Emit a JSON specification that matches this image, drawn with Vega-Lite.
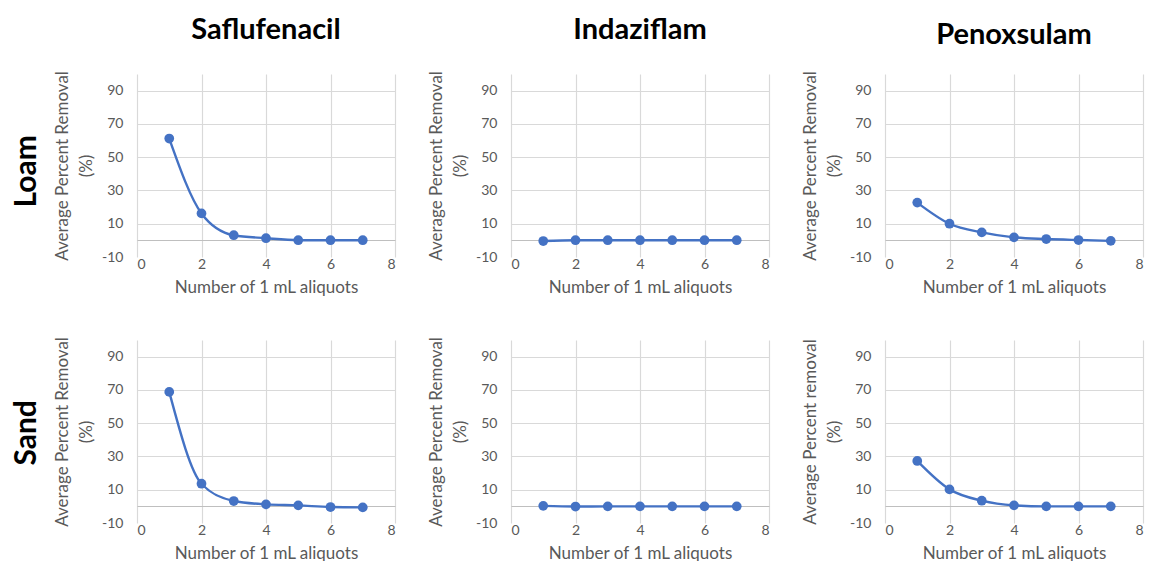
{
  "$schema": "https://vega.github.io/schema/vega-lite/v6.json",
  "padding": {"left": 11, "top": 15, "right": 4, "bottom": 0},
  "background": "white",
  "data": {"values": [
    {"soil": "Loam", "herbicide": "Saflufenacil", "aliquot": 1, "removal": 61.2},
    {"soil": "Loam", "herbicide": "Saflufenacil", "aliquot": 2, "removal": 16.2},
    {"soil": "Loam", "herbicide": "Saflufenacil", "aliquot": 3, "removal": 3.1},
    {"soil": "Loam", "herbicide": "Saflufenacil", "aliquot": 4, "removal": 1.3},
    {"soil": "Loam", "herbicide": "Saflufenacil", "aliquot": 5, "removal": 0.1},
    {"soil": "Loam", "herbicide": "Saflufenacil", "aliquot": 6, "removal": 0.1},
    {"soil": "Loam", "herbicide": "Saflufenacil", "aliquot": 7, "removal": 0.1},
    {"soil": "Loam", "herbicide": "Indaziflam", "aliquot": 1, "removal": -0.4},
    {"soil": "Loam", "herbicide": "Indaziflam", "aliquot": 2, "removal": 0.1},
    {"soil": "Loam", "herbicide": "Indaziflam", "aliquot": 3, "removal": 0.1},
    {"soil": "Loam", "herbicide": "Indaziflam", "aliquot": 4, "removal": 0.1},
    {"soil": "Loam", "herbicide": "Indaziflam", "aliquot": 5, "removal": 0.1},
    {"soil": "Loam", "herbicide": "Indaziflam", "aliquot": 6, "removal": 0.1},
    {"soil": "Loam", "herbicide": "Indaziflam", "aliquot": 7, "removal": 0.1},
    {"soil": "Loam", "herbicide": "Penoxsulam", "aliquot": 1, "removal": 22.7},
    {"soil": "Loam", "herbicide": "Penoxsulam", "aliquot": 2, "removal": 10.0},
    {"soil": "Loam", "herbicide": "Penoxsulam", "aliquot": 3, "removal": 4.8},
    {"soil": "Loam", "herbicide": "Penoxsulam", "aliquot": 4, "removal": 1.8},
    {"soil": "Loam", "herbicide": "Penoxsulam", "aliquot": 5, "removal": 0.8},
    {"soil": "Loam", "herbicide": "Penoxsulam", "aliquot": 6, "removal": 0.2},
    {"soil": "Loam", "herbicide": "Penoxsulam", "aliquot": 7, "removal": -0.3},
    {"soil": "Sand", "herbicide": "Saflufenacil", "aliquot": 1, "removal": 68.8},
    {"soil": "Sand", "herbicide": "Saflufenacil", "aliquot": 2, "removal": 13.6},
    {"soil": "Sand", "herbicide": "Saflufenacil", "aliquot": 3, "removal": 3.2},
    {"soil": "Sand", "herbicide": "Saflufenacil", "aliquot": 4, "removal": 1.2},
    {"soil": "Sand", "herbicide": "Saflufenacil", "aliquot": 5, "removal": 0.6},
    {"soil": "Sand", "herbicide": "Saflufenacil", "aliquot": 6, "removal": -0.4},
    {"soil": "Sand", "herbicide": "Saflufenacil", "aliquot": 7, "removal": -0.6},
    {"soil": "Sand", "herbicide": "Indaziflam", "aliquot": 1, "removal": 0.3},
    {"soil": "Sand", "herbicide": "Indaziflam", "aliquot": 2, "removal": -0.1},
    {"soil": "Sand", "herbicide": "Indaziflam", "aliquot": 3, "removal": 0.0},
    {"soil": "Sand", "herbicide": "Indaziflam", "aliquot": 4, "removal": 0.0},
    {"soil": "Sand", "herbicide": "Indaziflam", "aliquot": 5, "removal": 0.0},
    {"soil": "Sand", "herbicide": "Indaziflam", "aliquot": 6, "removal": 0.0},
    {"soil": "Sand", "herbicide": "Indaziflam", "aliquot": 7, "removal": 0.0},
    {"soil": "Sand", "herbicide": "Penoxsulam", "aliquot": 1, "removal": 27.3},
    {"soil": "Sand", "herbicide": "Penoxsulam", "aliquot": 2, "removal": 10.2},
    {"soil": "Sand", "herbicide": "Penoxsulam", "aliquot": 3, "removal": 3.4},
    {"soil": "Sand", "herbicide": "Penoxsulam", "aliquot": 4, "removal": 0.6},
    {"soil": "Sand", "herbicide": "Penoxsulam", "aliquot": 5, "removal": 0.0},
    {"soil": "Sand", "herbicide": "Penoxsulam", "aliquot": 6, "removal": 0.0},
    {"soil": "Sand", "herbicide": "Penoxsulam", "aliquot": 7, "removal": 0.0}
  ]},
  "spacing": 41,
  "vconcat": [
    {
      "title": {"text": "Loam", "orient": "left", "anchor": "middle", "fontSize": 30, "font": "Lato", "fontWeight": "bold", "color": "black", "offset": 12, "dx": -16},
      "spacing": 32,
      "hconcat": [
        {
          "title": {"text": "Saflufenacil", "fontSize": 29, "font": "Lato", "fontWeight": "bold", "color": "black", "offset": 26},
          "width": 258, "height": 183,
          "transform": [{"filter": "datum.soil === 'Loam' && datum.herbicide === 'Saflufenacil'"}],
          "encoding": {
            "x": {"field": "aliquot", "type": "quantitative", "scale": {"domain": [0, 8], "nice": false}, "axis": {"title": "Number of 1 mL aliquots", "values": [0, 2, 4, 6, 8]}},
            "y": {"field": "removal", "type": "quantitative", "scale": {"domain": [-10, 100], "nice": false, "zero": false},
                  "axis": {"title": ["Average Percent Removal", "(%)"], "values": [-10, 0, 10, 30, 50, 70, 90], "labelExpr": "datum.value === 0 ? '' : '' + datum.value",
                           "gridColor": {"condition": {"test": "datum.value === 0", "value": "#bfbfbf"}, "value": "#d9d9d9"},
                           "gridOpacity": {"condition": {"test": "datum.value === -10", "value": 0}, "value": 1}}}
          },
          "layer": [
            {"mark": {"type": "line", "interpolate": "monotone", "color": "#4472c4", "strokeWidth": 2.4}},
            {"mark": {"type": "point", "filled": true, "opacity": 1, "size": 95, "color": "#4472c4"}}
          ]
        },
        {
          "title": {"text": "Indaziflam", "fontSize": 29, "font": "Lato", "fontWeight": "bold", "color": "black", "offset": 26},
          "width": 258, "height": 183,
          "transform": [{"filter": "datum.soil === 'Loam' && datum.herbicide === 'Indaziflam'"}],
          "encoding": {
            "x": {"field": "aliquot", "type": "quantitative", "scale": {"domain": [0, 8], "nice": false}, "axis": {"title": "Number of 1 mL aliquots", "values": [0, 2, 4, 6, 8]}},
            "y": {"field": "removal", "type": "quantitative", "scale": {"domain": [-10, 100], "nice": false, "zero": false},
                  "axis": {"title": ["Average Percent Removal", "(%)"], "values": [-10, 0, 10, 30, 50, 70, 90], "labelExpr": "datum.value === 0 ? '' : '' + datum.value",
                           "gridColor": {"condition": {"test": "datum.value === 0", "value": "#bfbfbf"}, "value": "#d9d9d9"},
                           "gridOpacity": {"condition": {"test": "datum.value === -10", "value": 0}, "value": 1}}}
          },
          "layer": [
            {"mark": {"type": "line", "interpolate": "monotone", "color": "#4472c4", "strokeWidth": 2.4}},
            {"mark": {"type": "point", "filled": true, "opacity": 1, "size": 95, "color": "#4472c4"}}
          ]
        },
        {
          "title": {"text": "Penoxsulam", "fontSize": 29, "font": "Lato", "fontWeight": "bold", "color": "black", "offset": 21},
          "width": 258, "height": 183,
          "transform": [{"filter": "datum.soil === 'Loam' && datum.herbicide === 'Penoxsulam'"}],
          "encoding": {
            "x": {"field": "aliquot", "type": "quantitative", "scale": {"domain": [0, 8], "nice": false}, "axis": {"title": "Number of 1 mL aliquots", "values": [0, 2, 4, 6, 8]}},
            "y": {"field": "removal", "type": "quantitative", "scale": {"domain": [-10, 100], "nice": false, "zero": false},
                  "axis": {"title": ["Average Percent Removal", "(%)"], "values": [-10, 0, 10, 30, 50, 70, 90], "labelExpr": "datum.value === 0 ? '' : '' + datum.value",
                           "gridColor": {"condition": {"test": "datum.value === 0", "value": "#bfbfbf"}, "value": "#d9d9d9"},
                           "gridOpacity": {"condition": {"test": "datum.value === -10", "value": 0}, "value": 1}}}
          },
          "layer": [
            {"mark": {"type": "line", "interpolate": "monotone", "color": "#4472c4", "strokeWidth": 2.4}},
            {"mark": {"type": "point", "filled": true, "opacity": 1, "size": 95, "color": "#4472c4"}}
          ]
        }
      ]
    },
    {
      "title": {"text": "Sand", "orient": "left", "anchor": "middle", "fontSize": 30, "font": "Lato", "fontWeight": "bold", "color": "black", "offset": 12, "dx": 16},
      "spacing": 32,
      "hconcat": [
        {
          "width": 258, "height": 183,
          "transform": [{"filter": "datum.soil === 'Sand' && datum.herbicide === 'Saflufenacil'"}],
          "encoding": {
            "x": {"field": "aliquot", "type": "quantitative", "scale": {"domain": [0, 8], "nice": false}, "axis": {"title": "Number of 1 mL aliquots", "values": [0, 2, 4, 6, 8]}},
            "y": {"field": "removal", "type": "quantitative", "scale": {"domain": [-10, 100], "nice": false, "zero": false},
                  "axis": {"title": ["Average Percent Removal", "(%)"], "values": [-10, 0, 10, 30, 50, 70, 90], "labelExpr": "datum.value === 0 ? '' : '' + datum.value",
                           "gridColor": {"condition": {"test": "datum.value === 0", "value": "#bfbfbf"}, "value": "#d9d9d9"},
                           "gridOpacity": {"condition": {"test": "datum.value === -10", "value": 0}, "value": 1}}}
          },
          "layer": [
            {"mark": {"type": "line", "interpolate": "monotone", "color": "#4472c4", "strokeWidth": 2.4}},
            {"mark": {"type": "point", "filled": true, "opacity": 1, "size": 95, "color": "#4472c4"}}
          ]
        },
        {
          "width": 258, "height": 183,
          "transform": [{"filter": "datum.soil === 'Sand' && datum.herbicide === 'Indaziflam'"}],
          "encoding": {
            "x": {"field": "aliquot", "type": "quantitative", "scale": {"domain": [0, 8], "nice": false}, "axis": {"title": "Number of 1 mL aliquots", "values": [0, 2, 4, 6, 8]}},
            "y": {"field": "removal", "type": "quantitative", "scale": {"domain": [-10, 100], "nice": false, "zero": false},
                  "axis": {"title": ["Average Percent Removal", "(%)"], "values": [-10, 0, 10, 30, 50, 70, 90], "labelExpr": "datum.value === 0 ? '' : '' + datum.value",
                           "gridColor": {"condition": {"test": "datum.value === 0", "value": "#bfbfbf"}, "value": "#d9d9d9"},
                           "gridOpacity": {"condition": {"test": "datum.value === -10", "value": 0}, "value": 1}}}
          },
          "layer": [
            {"mark": {"type": "line", "interpolate": "monotone", "color": "#4472c4", "strokeWidth": 2.4}},
            {"mark": {"type": "point", "filled": true, "opacity": 1, "size": 95, "color": "#4472c4"}}
          ]
        },
        {
          "width": 258, "height": 183,
          "transform": [{"filter": "datum.soil === 'Sand' && datum.herbicide === 'Penoxsulam'"}],
          "encoding": {
            "x": {"field": "aliquot", "type": "quantitative", "scale": {"domain": [0, 8], "nice": false}, "axis": {"title": "Number of 1 mL aliquots", "values": [0, 2, 4, 6, 8]}},
            "y": {"field": "removal", "type": "quantitative", "scale": {"domain": [-10, 100], "nice": false, "zero": false},
                  "axis": {"title": ["Average Percent removal", "(%)"], "values": [-10, 0, 10, 30, 50, 70, 90], "labelExpr": "datum.value === 0 ? '' : '' + datum.value",
                           "gridColor": {"condition": {"test": "datum.value === 0", "value": "#bfbfbf"}, "value": "#d9d9d9"},
                           "gridOpacity": {"condition": {"test": "datum.value === -10", "value": 0}, "value": 1}}}
          },
          "layer": [
            {"mark": {"type": "line", "interpolate": "monotone", "color": "#4472c4", "strokeWidth": 2.4}},
            {"mark": {"type": "point", "filled": true, "opacity": 1, "size": 95, "color": "#4472c4"}}
          ]
        }
      ]
    }
  ],
  "config": {
    "view": {"stroke": null},
    "axis": {
      "domain": false,
      "ticks": false,
      "grid": true,
      "gridColor": "#d9d9d9",
      "gridWidth": 1.2,
      "labelColor": "#595959",
      "titleColor": "#595959",
      "labelFont": "Lato",
      "titleFont": "Lato",
      "labelFontSize": 14,
      "titleFontSize": 17,
      "titleFontWeight": "normal"
    },
    "axisX": {"labelPadding": 0, "titlePadding": 8},
    "axisY": {"labelPadding": 14, "titlePadding": 6, "titleLineHeight": 24}
  }
}
